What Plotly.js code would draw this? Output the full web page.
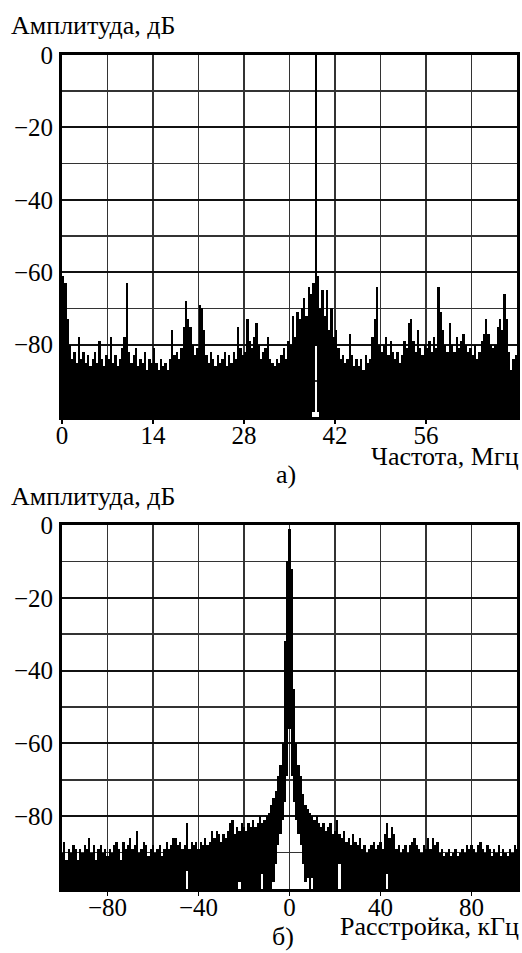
<!DOCTYPE html>
<html>
<head>
<meta charset="utf-8">
<script src="https://cdn.plot.ly/plotly-3.0.1.min.js"></script>
<style>html,body{margin:0;padding:0;background:#fff;}#chart{width:522px;height:953px;}</style>
</head>
<body>
<div id="chart"></div>
<script>
// ---------- DATA ----------
// Panel a): spectrum, 0..70 MHz, bins of 0.35 MHz (level in dB, upper edge of each bin)
const topBinMHz = 0.35;
const topLevels = [
  -61,-63,-73,-80,-84,-82,-85,-78,-84,-82,
  -85,-83,-86,-84,-82,-85,-79,-84,-86,-83,
  -84,-78,-85,-83,-86,-84,-81,-78,-63,-82,
  -85,-83,-81,-86,-84,-85,-82,-87,-84,-85,
  -81,-85,-87,-84,-86,-85,-87,-84,-76,-83,
  -82,-84,-81,-75,-68,-73,-75,-80,-83,-81,
  -69,-70,-76,-83,-85,-82,-84,-86,-83,-85,
  -84,-82,-86,-83,-85,-82,-84,-75,-81,-83,
  -82,-73,-79,-81,-78,-74,-80,-84,-82,-81,
  -78,-84,-85,-86,-84,-85,-83,-81,-84,-79,
  -80,-72,-78,-71,-73,-70,-67,-72,-64,-66,
  -63,0,-61,-70,-65,-72,-65,-76,-70,-78,
  -76,-81,-84,-83,-85,-84,-77,-83,-86,-84,
  -86,-84,-87,-83,-85,-84,-78,-73,-64,-80,
  -82,-80,-78,-83,-79,-82,-84,-82,-85,-83,
  -79,-81,-74,-73,-79,-82,-76,-81,-83,-80,
  -81,-79,-82,-78,-81,-64,-71,-76,-80,-82,
  -74,-80,-82,-78,-81,-79,-77,-80,-82,-81,
  -83,-80,-84,-82,-79,-77,-73,-77,-80,-81,
  -80,-75,-73,-76,-66,-73,-82,-87,-84,-83
];
// lower edge of the drawn level where it is above the floor (white notch under the carrier)
const topNotchBins = [110, 111, 112];
const topNotchLow  = [-98.5, -80.5, -98.5];

// Panel б): spectrum vs detuning, -100..100 kHz, 1 kHz bins
const botBinKHz = 1;
const botLevels = [
  -90,-87,-92,-89,-90,-88,-89,-92,-89,-90,
  -88,-89,-86,-90,-88,-92,-89,-88,-90,-89,
  -91,-89,-90,-88,-87,-89,-92,-87,-89,-88,
  -86,-89,-88,-84,-90,-89,-87,-88,-91,-89,
  -88,-90,-89,-88,-91,-89,-87,-89,-88,-86,
  -86,-88,-87,-89,-88,-82,-89,-87,-88,-87,
  -89,-87,-88,-86,-88,-87,-84,-86,-84,-85,
  -87,-85,-86,-84,-82,-81,-85,-83,-84,-82,
  -83,-84,-82,-83,-81,-83,-82,-80,-82,-81,
  -80,-79,-77,-75,-73,-69,-66,-60,-32,-10,
  -1,
  -12,-45,-60,-66,-69,-74,-77,-78,-79,-80,
  -81,-80,-82,-83,-82,-84,-83,-82,-85,-84,
  -81,-85,-86,-84,-87,-86,-88,-85,-87,-88,
  -86,-89,-88,-90,-89,-88,-87,-89,-88,-87,
  -89,-85,-82,-86,-83,-85,-89,-88,-90,-89,
  -88,-90,-88,-87,-86,-88,-89,-90,-88,-89,
  -86,-89,-86,-88,-87,-90,-89,-91,-90,-89,
  -91,-90,-89,-91,-90,-89,-90,-88,-89,-88,
  -89,-90,-88,-87,-89,-90,-88,-89,-91,-89,
  -90,-88,-91,-89,-90,-91,-89,-90,-88,-89
];
const botNotchKHz = [-45,-22,-12,-7,-6,-5,-4,-3,-2,-1,0,1,2,3,4,5,6,7,8,10,22,43];
const botNotchLow = [-95,-98,-96,-98,-93,-88,-85,-81,-76,-69,-56,-69,-76,-81,-85,-88,-93,-98,-97,-97,-93,-96];

const floorDB = -100;
const yTickVals = [0,-20,-40,-60,-80];
const yTickText = ['0','\u221220','\u221240','\u221260','\u221280'];
const topTickVals = [0,14,28,42,56];
const topTickText = ['0','14','28','42','56'];
const botTickVals = [-80,-40,0,40,80];
const botTickText = ['\u221280','\u221240','0','40','80'];

// ---------- BUILD ----------
const W = 522, H = 953;
const px = x => x / W, py = y => 1 - y / H;

const topX = topLevels.map((_, i) => (i + 0.5) * topBinMHz);
const topBase = topLevels.map(() => floorDB);
topNotchBins.forEach((b, j) => { topBase[b] = topNotchLow[j]; });

const botX = botLevels.map((_, i) => -100 + i * botBinKHz);
const botBase = botLevels.map(() => floorDB);
botNotchKHz.forEach((k, j) => { botBase[k + 100] = botNotchLow[j]; });

const traces = [
  {type:'bar', x: topX, base: topBase, y: topLevels.map((v,i)=>v-topBase[i]),
   width: topBinMHz, marker:{color:'#000', line:{width:0}}, xaxis:'x', yaxis:'y', hoverinfo:'skip'},
  {type:'bar', x: botX, base: botBase, y: botLevels.map((v,i)=>v-botBase[i]),
   width: botBinKHz, marker:{color:'#000', line:{width:0}}, xaxis:'x2', yaxis:'y2', hoverinfo:'skip'}
];

const serif = '"Liberation Serif", "Times New Roman", serif';
const tickFont = {family: serif, size: 25, color:'#000'};
function xAx(domain, range, vals, text, minorStep, anchor){
  return {domain, range, anchor, tickmode:'array', tickvals: vals, ticktext: text,
    ticks:'outside', ticklen:4, tickwidth:1.5, tickcolor:'#000',
    showgrid:true, gridcolor:'#333', gridwidth:1.5,
    minor:{dtick:minorStep, tick0:0, showgrid:true, gridcolor:'#333', gridwidth:1.5, ticks:''},
    showline:true, linewidth:3, linecolor:'#000', mirror:true, zeroline:false,
    tickfont: tickFont, fixedrange:true, ticklabelstandoff: -10};
}
function yAx(domain, anchor){
  return {domain, range:[floorDB, 0], anchor, tickmode:'array', tickvals: yTickVals, ticktext: yTickText,
    ticks:'', showgrid:true, gridcolor:'#111', gridwidth:2,
    minor:{dtick:10, tick0:0, showgrid:true, gridcolor:'#333', gridwidth:1.5, ticks:''},
    showline:true, linewidth:3, linecolor:'#000', mirror:true, zeroline:false,
    tickfont: tickFont, fixedrange:true, ticklabelstandoff: 1};
}

const titleFont = {family: serif, size: 26, color:'#000'};
const ann = (text, x, y, xa, ya) => ({text, x: px(x), y: py(y), xref:'paper', yref:'paper',
  xanchor: xa, yanchor: ya || 'middle', showarrow:false, font: titleFont});

const layout = {
  width: W, height: H, margin:{l:0,r:0,t:0,b:0, autoexpand:false},
  paper_bgcolor:'#fff', plot_bgcolor:'#fff', showlegend:false, bargap:0, barmode:'overlay',
  xaxis:  xAx([px(62), px(517)], [0,70], topTickVals, topTickText, 7, 'y'),
  yaxis:  yAx([py(417), py(55)], 'x'),
  xaxis2: xAx([px(62), px(517)], [-100,100], botTickVals, botTickText, 20, 'y2'),
  yaxis2: yAx([py(889), py(525)], 'x2'),
  annotations: [
    ann('Амплитуда, дБ', 9, 26, 'left'),
    ann('Частота, Мгц', 521, 456, 'right'),
    ann('а)', 286, 474, 'center'),
    ann('Амплитуда, дБ', 9, 496, 'left'),
    ann('Расстройка, кГц', 521, 926, 'right'),
    ann('б)', 283, 953, 'center', 'bottom')
  ]
};

Plotly.newPlot('chart', traces, layout, {displayModeBar:false, staticPlot:true});
</script>
</body>
</html>
